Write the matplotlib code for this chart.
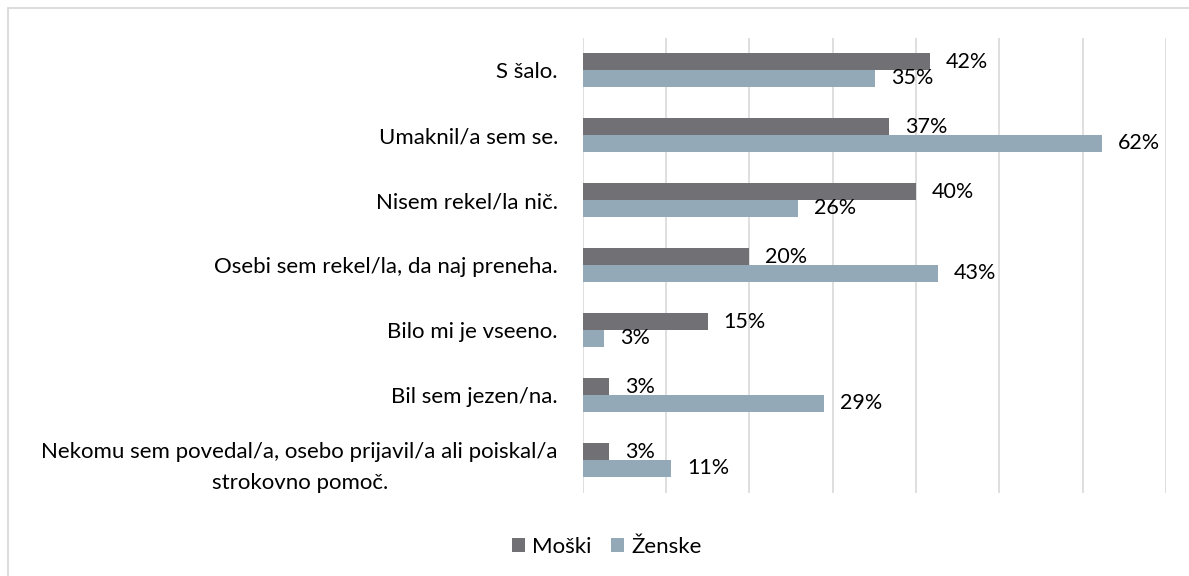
import matplotlib
matplotlib.use("Agg")
import matplotlib.pyplot as plt
from matplotlib.patches import Rectangle, Patch
import numpy as np

plt.rcParams['font.family'] = ['Lato', 'DejaVu Sans']

categories = [
    "S šalo.",
    "Umaknil/a sem se.",
    "Nisem rekel/la nič.",
    "Osebi sem rekel/la, da naj preneha.",
    "Bilo mi je vseeno.",
    "Bil sem jezen/na.",
    "Nekomu sem povedal/a, osebo prijavil/a ali poiskal/a\nstrokovno pomoč.",
]
moski = [41.7, 36.8, 40.0, 20.0, 15.0, 3.2, 3.2]
zenske = [35.1, 62.3, 25.8, 42.6, 2.6, 29.0, 10.6]
series_names = ["Moški", "Ženske"]
colors = ["#717075", "#93A9B8"]
xticks = [0, 10, 20, 30, 40, 50, 60, 70]

W, H = 1189, 576
fig = plt.figure(figsize=(W / 100, H / 100), dpi=100)
ax = fig.add_axes([582.7 / W, 1 - 492.5 / H, (1165.8 - 582.7) / W, (492.5 - 37.5) / H])

y = np.arange(len(categories))
h = 0.256
bm = ax.barh(y - h / 2, moski, height=h, color=colors[0], zorder=3)
bz = ax.barh(y + h / 2, zenske, height=h, color=colors[1], zorder=3)

for bars, vals in ((bm, moski), (bz, zenske)):
    for b, v in zip(bars, vals):
        ax.annotate(f"{round(v)}%", xy=(b.get_width(), b.get_y() + b.get_height() / 2),
                    xytext=(11.5, 0), textcoords="offset points", va="center", ha="left",
                    fontsize=15.5, color="#000000", zorder=4)

ax.set_xlim(0, 70)
ax.set_ylim(len(categories) - 0.5, -0.5)
ax.set_xticks(xticks)
ax.set_xticklabels([])
ax.tick_params(axis="x", length=0)
ax.set_yticks(y)
ax.set_yticklabels(categories, fontsize=16, linespacing=1.7, multialignment="center")
ax.tick_params(axis="y", length=0, pad=17.8)
ax.grid(axis="x", color="#D9D9D9", linewidth=1.2, zorder=0)
for s in ax.spines.values():
    s.set_visible(False)

handles = [Patch(facecolor=c, edgecolor="none") for c in colors]
fig.legend(handles, series_names, loc="center", bbox_to_anchor=(606.5 / W, 1 - 547 / H),
           ncol=2, frameon=False, fontsize=16, handlelength=0.6, handleheight=0.6,
           handletextpad=0.3, columnspacing=0.9)

fig.patches.append(Rectangle((8 / W, -0.5), 2.0, 1 - 8 / H + 0.5, transform=fig.transFigure,
                             fill=False, edgecolor="#D9D9D9", linewidth=1.3, zorder=0))

fig.savefig("out.png", dpi=100)
